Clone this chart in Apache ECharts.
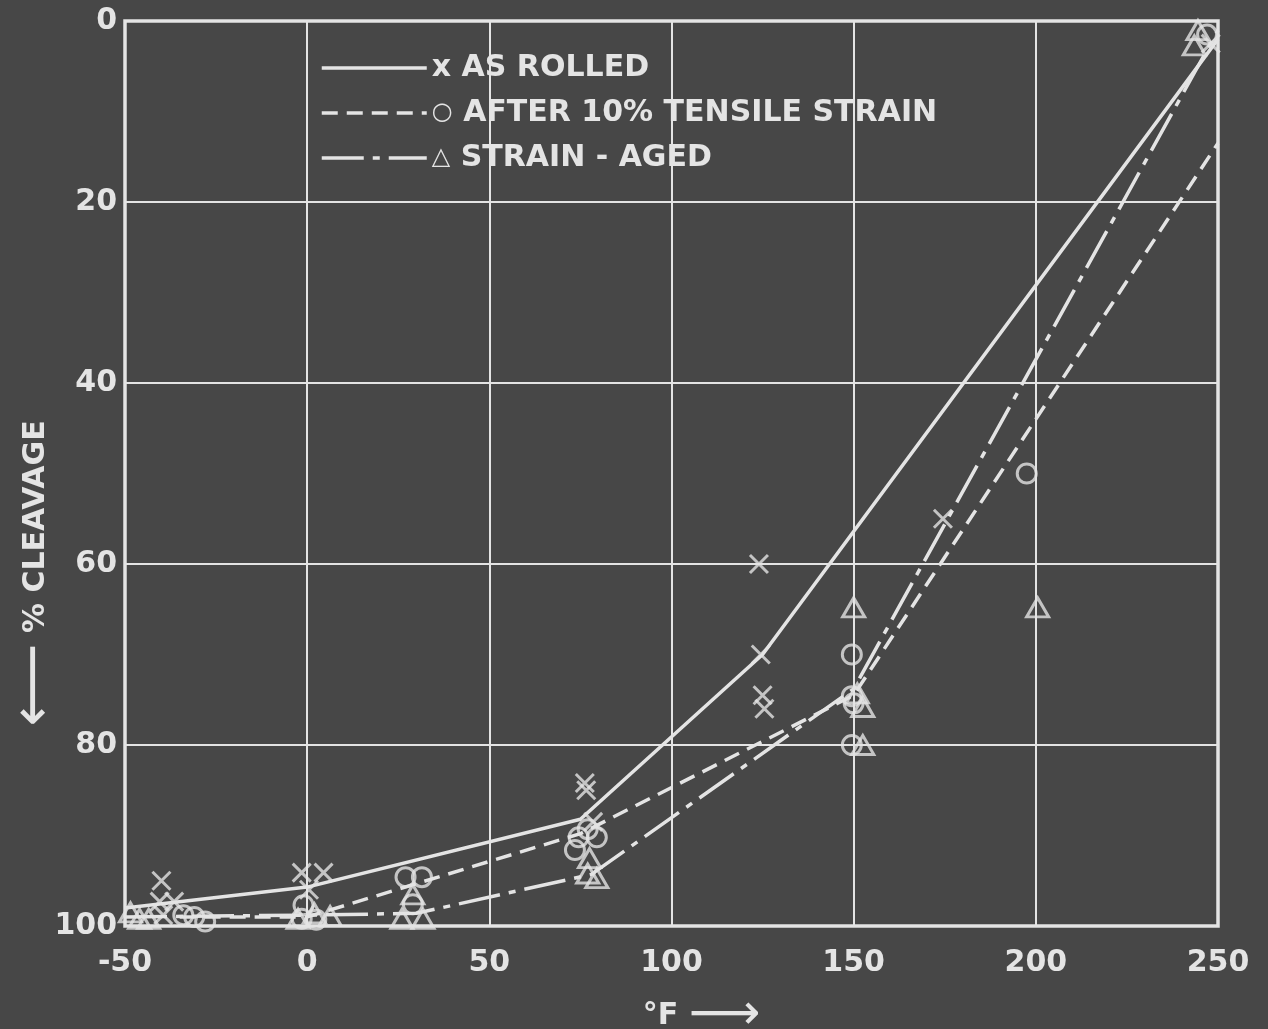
<!DOCTYPE html>
<html>
<head>
<meta charset="utf-8">
<script src="https://cdn.jsdelivr.net/npm/echarts@6/dist/echarts.min.js"></script>
<style>
html,body{margin:0;padding:0;background:#474747;}
#chart{width:1268px;height:1029px;}
</style>
</head>
<body>
<div id="chart"></div>
<script>
// ---- data (temperature °F, % cleavage) ----
var seriesNames = ['AS ROLLED', 'AFTER 10% TENSILE STRAIN', 'STRAIN - AGED'];
var legendMarks = ['x', '\u25CB', '\u25B3'];

// fitted curves
var rolledLineX = [-50, 0, 75, 125, 250];
var rolledLineY = [98, 95.7, 88.2, 70, 2];
var tensileLineX = [-35, 0, 75, 150, 250];
var tensileLineY = [99, 99, 89.8, 74.5, 13.5];
var agedLineX = [-50, 0, 30, 78, 150, 250];
var agedLineY = [99, 98.8, 98.6, 94.3, 73.8, 1];

// test points
var rolledPtsX = [-40, -40.5, -36.5, -39.5, -1.5, 4.5, 0.5, 76.2, 76.6, 78.5, 124, 124.5, 125, 125.5, 174.5, 248];
var rolledPtsY = [95, 97.3, 97.3, 98.8, 94.1, 94.1, 96, 84.2, 85, 88.5, 60, 70, 74.5, 76, 55, 2.5];
var tensilePtsX = [-34, -31, -28, -1, -1.5, 2.5, 27, 31.5, 29, 73.5, 74.5, 79.5, 77, 149.5, 149.5, 150, 149.5, 197.5, 247];
var tensilePtsY = [98.8, 99, 99.5, 97.7, 99.2, 99.3, 94.6, 94.6, 97.6, 91.6, 90.2, 90.2, 89.3, 70, 74.6, 75.4, 80, 50, 1.5];
var agedPtsX = [-48.5, -46, -43.5, -2.5, 2, 6.3, 26, 31.8, 29, 77.5, 77, 79.5, 150, 151, 152.5, 152.5, 200.5, 244.5, 243.5];
var agedPtsY = [98.5, 99.2, 99.2, 99.2, 98.6, 98.9, 99.2, 99.2, 96.5, 92.5, 94.2, 94.7, 64.8, 74.3, 75.8, 80, 64.8, 1, 2.7];

var xTicks = {min: -50, max: 250, interval: 50};
var yTicks = {min: 0, max: 100, interval: 20};

function zip(xs, ys) { return xs.map(function (x, i) { return [x, ys[i]]; }); }

var FG = '#e4e4e4';
var FONT = 'DejaVu Sans';
var chart = echarts.init(document.getElementById('chart'), null, {renderer: 'canvas'});

var lineTypes = ['solid', [16, 9], [42, 9, 7, 9]];
var lineData = [zip(rolledLineX, rolledLineY), zip(tensileLineX, tensileLineY), zip(agedLineX, agedLineY)];
var ptData = [zip(rolledPtsX, rolledPtsY), zip(tensilePtsX, tensilePtsY), zip(agedPtsX, agedPtsY)];
var ptSymbols = ['path://M0 0L20 20M20 0L0 20', 'circle', 'triangle'];
var ptSizes = [[18, 18], 19, [22, 19]];

var series = [];
for (var i = 0; i < 3; i++) {
  series.push({
    name: seriesNames[i], type: 'line', data: lineData[i], symbol: 'none',
    smooth: false, z: 3,
    lineStyle: {color: FG, width: 3.5, type: lineTypes[i]},
    itemStyle: {color: FG}
  });
}
for (var j = 0; j < 3; j++) {
  series.push({
    name: seriesNames[j], type: 'scatter', data: ptData[j],
    symbol: ptSymbols[j], symbolSize: ptSizes[j], z: 4,
    itemStyle: {color: 'transparent', borderColor: FG, borderWidth: 3}
  });
}

var legendData = seriesNames.map(function (n, k) {
  return {name: n, lineStyle: {color: FG, width: 3.5, type: lineTypes[k]}};
});

chart.setOption({
  backgroundColor: '#474747',
  animation: false,
  textStyle: {fontFamily: FONT, color: FG},
  grid: {left: 125, right: 50, top: 21, bottom: 103, containLabel: false, outerBoundsMode: 'none',
    show: true, borderColor: FG, borderWidth: 3.5},
  legend: {
    data: legendData, orient: 'vertical', left: 320, top: 53, padding: 0,
    itemWidth: 105, itemHeight: 30, itemGap: 15, selectedMode: false,
    itemStyle: {opacity: 0},
    lineStyle: {color: FG, width: 3.5},
    textStyle: {color: FG, fontFamily: FONT, fontSize: 30, fontWeight: 'bold',
      rich: {m: {fontSize: 24, fontWeight: 'bold', color: FG, fontFamily: FONT}}},
    formatter: function (name) {
      var k = seriesNames.indexOf(name);
      return (k === 0 ? legendMarks[k] : '{m|' + legendMarks[k] + '}') + ' ' + name;
    }
  },
  xAxis: {
    type: 'value', min: xTicks.min, max: xTicks.max, interval: xTicks.interval,
    name: '°F {a|⟶}', nameLocation: 'middle', nameGap: 65,
    nameTextStyle: {color: FG, fontSize: 30, fontFamily: FONT, fontWeight: 'bold', padding: [0, 0, 0, 60],
      rich: {a: {fontSize: 50, fontWeight: 'normal', color: FG, fontFamily: FONT, verticalAlign: 'middle'}}},
    axisLine: {show: false}, axisTick: {show: false},
    axisLabel: {color: FG, fontSize: 30, fontFamily: FONT, fontWeight: 'bold', margin: 22},
    splitLine: {show: true, lineStyle: {color: FG, width: 2}}
  },
  yAxis: {
    type: 'value', inverse: true, min: yTicks.min, max: yTicks.max, interval: yTicks.interval,
    name: '{a|⟵} % CLEAVAGE', nameLocation: 'middle', nameGap: 60, nameRotate: 90, nameMoveOverlap: false,
    nameTextStyle: {color: FG, fontSize: 30, fontFamily: FONT, fontWeight: 'bold', padding: [0, 200, 0, 0],
      rich: {a: {fontSize: 58, fontWeight: 'normal', color: FG, fontFamily: FONT, verticalAlign: 'middle'}}},
    axisLine: {show: false}, axisTick: {show: false},
    axisLabel: {color: FG, fontSize: 30, fontFamily: FONT, fontWeight: 'bold', margin: 8, padding: [7, 0, 0, 0]},
    splitLine: {show: true, lineStyle: {color: FG, width: 2}}
  },
  series: series
});
</script>
</body>
</html>
